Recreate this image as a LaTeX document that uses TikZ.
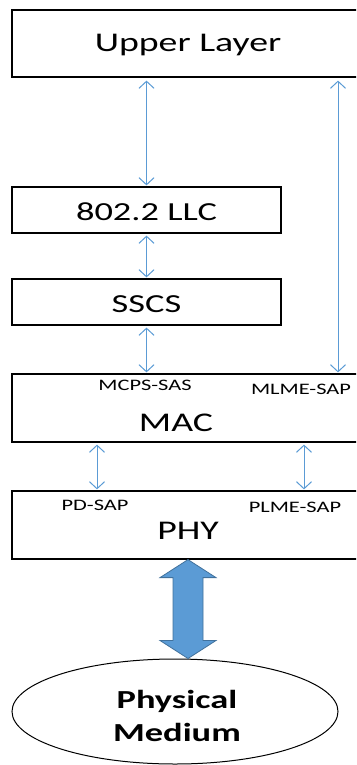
\documentclass[tikz,border=0pt]{standalone}
\usepackage{fontspec}
\setmainfont{Carlito}[FakeStretch=1.4]
\usepackage{tikz}
\usetikzlibrary{shapes.geometric, arrows.meta, positioning, calc}
\definecolor{linkblue}{RGB}{91,155,213}
\definecolor{arrowedge}{RGB}{65,113,156}

\begin{document}
\begin{tikzpicture}[
  x=1pt, y=-1pt,
  layer/.style={rectangle, draw, line width=1.2pt, inner sep=0pt},
  big/.style={font=\fontsize{27}{30}\selectfont, anchor=base},
  small/.style={font=\fontsize{16}{18}\selectfont, anchor=base},
  link/.style={{Straight Barb[length=7pt,width=15pt]}-{Straight Barb[length=7pt,width=15pt]},
               draw=linkblue, line width=1pt, shorten <=2pt, shorten >=1pt},
  bigarrow/.style={fill=linkblue, draw=arrowedge, line width=0.8pt}
]
\clip (0,0) rectangle (356,765);
% layer boxes
\node[layer, minimum width=352, minimum height=67] (upper) at (188,43.5) {};
\node[layer, minimum width=269, minimum height=46] (llc)   at (146.5,210) {};
\node[layer, minimum width=269, minimum height=46] (sscs)  at (146.5,302) {};
\node[layer, minimum width=352, minimum height=68] (mac)   at (188,408) {};
\node[layer, minimum width=352, minimum height=68] (phy)   at (188,525) {};
\node[ellipse, draw, line width=1pt, minimum width=326, minimum height=105,
      inner sep=0pt] (med) at (175,711.5) {};
% texts
\node[big] (uppertext) at (188,52)    {Upper Layer};
\node[big, font=\fontsize{26}{30}\selectfont] (llctext)  at (146.5,220.7) {802.2 LLC};
\node[big, font=\fontsize{26}{30}\selectfont] (sscstext) at (146.5,312.7) {SSCS};
\node[big] (mactext)  at (176,431.7) {MAC};
\node[big] (phytext)  at (188,539)   {PHY};
\node[small] (mcps)  at (145,390)   {MCPS-SAS};
\node[small] (mlme)  at (301,394.3) {MLME-SAP};
\node[small] (pdsap) at (95,510.7)  {PD-SAP};
\node[small] (plme)  at (295,512.7) {PLME-SAP};
\node[font=\fontsize{26}{33}\selectfont\bfseries, align=center] (medtext) at (177,716)
     {Physical\\Medium};
% service access links
\coordinate (mlx) at (338,0);
\coordinate (pdx) at (97,0);
\coordinate (plx) at (304,0);
\draw[link, shorten <=3pt] (upper.south -| llc) -- (llc.north);
\draw[link, shorten <=3pt] (upper.south -| mlx) -- (mac.north -| mlx);
\draw[link] (llc.south) -- (sscs.north);
\draw[link] (sscs.south) -- (mac.north -| sscs);
\draw[link] (mac.south -| pdx) -- (phy.north -| pdx);
\draw[link] (mac.south -| plx) -- (phy.north -| plx);
% PHY <-> medium
\draw[bigarrow] (phy.south) -- ++(28,18) -- ++(-13,0)
  -- ($(phy.south |- med.north)+(15,-18)$) -- ++(13,0) -- (phy.south |- med.north)
  -- ++(-28,-18) -- ++(13,0) -- ($(phy.south)+(-15,18)$) -- ++(-13,0) -- cycle;
\end{tikzpicture}
\end{document}
